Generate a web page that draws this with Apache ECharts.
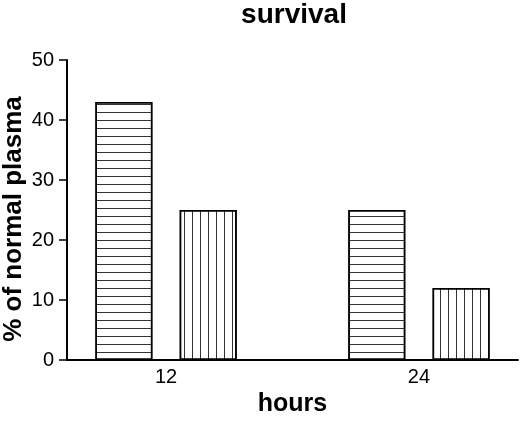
<!DOCTYPE html>
<html>
<head>
<meta charset="utf-8">
<script src="https://cdn.jsdelivr.net/npm/echarts@6/dist/echarts.min.js"></script>
<style>
  html, body { margin: 0; padding: 0; background: #fff; }
  #main { width: 520px; height: 421px; }
</style>
</head>
<body>
<div id="main"></div>
<script>
// data
var hours = [12, 24];
var groupA = [43, 25];   // horizontally striped bars
var groupB = [25, 12];   // vertically striped bars
var yTicks = [0, 10, 20, 30, 40, 50];

var FONT = '"Liberation Sans", Arial, Helvetica, sans-serif';
var chart = echarts.init(document.getElementById('main'));

// each bar sits 2 h left / right of its time point
function place(vals, shift) {
  return hours.map(function (h, i) { return [h + shift, vals[i]]; });
}

var option = {
  animation: false,
  backgroundColor: '#fff',
  aria: { enabled: true, decal: { show: true } },
  title: {
    text: 'survival',
    left: 289,
    textAlign: 'center',
    top: -4,
    textStyle: { fontFamily: FONT, fontSize: 28, fontWeight: 'bold', color: '#000' }
  },
  grid: { left: 67, right: 2, top: 60, bottom: 61, outerBoundsMode: 'none', containLabel: false },
  xAxis: {
    type: 'value',
    min: 7.3,
    max: 28.7,
    name: 'hours',
    nameLocation: 'middle',
    nameGap: 32,
    nameMoveOverlap: false,
    nameTextStyle: { fontFamily: FONT, fontSize: 25, fontWeight: 'bold', color: '#000' },
    axisLine: { show: true, lineStyle: { color: '#000', width: 2 } },
    axisTick: { show: false },
    splitLine: { show: false },
    axisLabel: {
      customValues: hours,
      fontFamily: FONT, fontSize: 20, color: '#000', margin: 7
    }
  },
  yAxis: {
    type: 'value',
    min: 0,
    max: 50,
    interval: 10,
    name: '% of normal plasma',
    nameLocation: 'middle',
    nameRotate: 90,
    nameGap: 40,
    nameMoveOverlap: false,
    nameTextStyle: { fontFamily: FONT, fontSize: 26, fontWeight: 'bold', color: '#000', padding: [0, 0, 0, -18] },
    axisLine: { show: true, lineStyle: { color: '#000', width: 2 } },
    axisTick: { show: true, length: 8, lineStyle: { color: '#000', width: 1.5 } },
    splitLine: { show: false },
    axisLabel: {
      customValues: yTicks,
      fontFamily: FONT, fontSize: 20, color: '#000', margin: 13
    }
  },
  series: [
    {
      name: 'group A',
      type: 'bar',
      barWidth: 57,
      barGap: '-100%',
      data: place(groupA, -2),
      itemStyle: {
        color: '#fff',
        borderColor: '#000',
        borderWidth: 1.5,
        decal: {
          symbol: 'rect',
          symbolSize: 1,
          color: '#333',
          dashArrayX: [1, 0],
          dashArrayY: [1, 6.3],
          rotation: 0
        }
      }
    },
    {
      name: 'group B',
      type: 'bar',
      barWidth: 57,
      barGap: '-100%',
      data: place(groupB, 2),
      itemStyle: {
        color: '#fff',
        borderColor: '#000',
        borderWidth: 1.5,
        decal: {
          symbol: 'rect',
          symbolSize: 1,
          color: '#333',
          dashArrayX: [1, 7],
          dashArrayY: [1, 0],
          rotation: 0
        }
      }
    }
  ]
};

chart.setOption(option);
</script>
</body>
</html>
